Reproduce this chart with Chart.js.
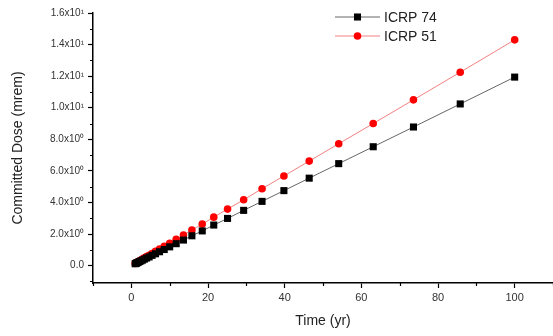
<!DOCTYPE html>
<html>
<head>
<meta charset="utf-8">
<script src="https://cdn.jsdelivr.net/npm/chart.js@4"></script>
<style>
  body { margin: 0; background: #fff; }
  #wrap { width: 553px; height: 336px; }
</style>
</head>
<body>
<div id="wrap"><canvas id="doseChart"></canvas></div>
<script>
// time points (yr)
let years = [1, 1.17, 1.36, 1.58, 1.85, 2.15, 2.51, 2.93, 3.41, 3.98, 4.64, 5.41, 6.31, 7.36, 8.58,
    10, 11.7, 13.6, 15.8, 18.5, 21.5, 25.1, 29.3, 34.1, 39.8, 46.4, 54.1, 63.1, 73.6, 85.8, 100]

// committed dose (mrem)
let icrp74 = [0.12, 0.14, 0.16, 0.19, 0.22, 0.26, 0.30, 0.35, 0.41, 0.48, 0.55, 0.65, 0.75, 0.88, 1.02,
    1.19, 1.39, 1.62, 1.89, 2.2, 2.57, 2.99, 3.5, 4.07, 4.75, 5.54, 6.46, 7.53, 8.78, 10.24, 11.94]
let icrp51 = [0.14, 0.17, 0.19, 0.23, 0.26, 0.31, 0.36, 0.42, 0.49, 0.57, 0.66, 0.77, 0.9, 1.05, 1.22,
    1.42, 1.66, 1.94, 2.26, 2.63, 3.07, 3.58, 4.17, 4.87, 5.68, 6.62, 7.72, 9.0, 10.5, 12.25, 14.3]

let xTicks = [0, 20, 40, 60, 80, 100]
let xMinor = [-10, 10, 30, 50, 70, 90, 110]
let xLabels = { 0: '0', 20: '20', 40: '40', 60: '60', 80: '80', 100: '100' }
let yTicks = [0, 2, 4, 6, 8, 10, 12, 14, 16]
let yMinor = [-1, 1, 3, 5, 7, 9, 11, 13, 15]
let yLabels = {
    0: '0.0', 2: '2.0x10⁰', 4: '4.0x10⁰', 6: '6.0x10⁰', 8: '8.0x10⁰',
    10: '1.0x10¹', 12: '1.2x10¹', 14: '1.4x10¹', 16: '1.6x10¹'
}

let chartEl = document.getElementById('doseChart')

// shorter minor ticks, origin style
let minorTicks = {
    id: 'minorTicks',
    afterDraw(chart) {
        let ctx = chart.ctx
        let xs = chart.scales.x
        let ys = chart.scales.y
        ctx.save()
        ctx.strokeStyle = '#000'
        ctx.lineWidth = 1.2
        ctx.beginPath()
        xMinor.forEach(function(v) {
            let px = Math.round(xs.getPixelForValue(v)) + 0.5
            ctx.moveTo(px, xs.top)
            ctx.lineTo(px, xs.top + 3)
        })
        yMinor.forEach(function(v) {
            let py = Math.round(ys.getPixelForValue(v)) + 0.5
            ctx.moveTo(ys.right, py)
            ctx.lineTo(ys.right - 3, py)
        })
        ctx.stroke()
        ctx.restore()
    }
}

// legend drawn like the origin one: short line with marker through it
let originLegend = {
    id: 'originLegend',
    afterDraw(chart) {
        let ctx = chart.ctx
        let items = [
            { text: 'ICRP 74', line: '#666', fill: '#000', style: 'rect', r: 5 },
            { text: 'ICRP 51', line: '#f08080', fill: '#f00', style: 'circle', r: 3.8 }
        ]
        ctx.save()
        items.forEach(function(item, i) {
            let y = 17 + i * 19
            ctx.strokeStyle = item.line
            ctx.lineWidth = 1
            ctx.beginPath()
            ctx.moveTo(335, y)
            ctx.lineTo(380, y)
            ctx.stroke()
            ctx.fillStyle = item.fill
            ctx.strokeStyle = item.fill
            Chart.helpers.drawPoint(ctx, { pointStyle: item.style, radius: item.r, borderWidth: 0 }, 357.5, y)
            ctx.fillStyle = '#222'
            ctx.font = '14px "Liberation Sans", Arial, sans-serif'
            ctx.textBaseline = 'middle'
            ctx.fillText(item.text, 384, y + 1)
        })
        ctx.restore()
    }
}

let doseChart = new Chart(chartEl, {
    type: 'line',
    data: {
        datasets: [{
                label: 'ICRP 74',
                data: years.map(function(t, i) { return { x: t, y: icrp74[i] } }),
                borderColor: '#666',
                borderWidth: 1,
                pointStyle: 'rect',
                pointRadius: 5,
                pointBorderWidth: 0,
                pointBackgroundColor: '#000',
                pointBorderColor: '#000'
            },
            {
                label: 'ICRP 51',
                data: years.map(function(t, i) { return { x: t, y: icrp51[i] } }),
                borderColor: '#f08080',
                borderWidth: 1,
                pointStyle: 'circle',
                pointRadius: 3.8,
                pointBorderWidth: 0,
                pointBackgroundColor: '#f00',
                pointBorderColor: '#f00'
            }
        ]
    },
    options: {
        responsive: true,
        maintainAspectRatio: false,
        animation: false,
        layout: { autoPadding: false, padding: { top: 13, right: 0, left: 0, bottom: 0 } },
        plugins: {
            legend: { display: false },
            tooltip: { enabled: false }
        },
        scales: {
            x: {
                type: 'linear',
                min: -10,
                max: 110,
                afterBuildTicks: function(scale) {
                    scale.ticks = xTicks.map(function(v) { return { value: v } })
                },
                afterFit: function(scale) { scale.height = 53 },
                border: { color: '#000', width: 1.5 },
                grid: { drawOnChartArea: false, tickLength: 5, tickColor: '#000', tickWidth: 1.2 },
                ticks: {
                    maxRotation: 0,
                    autoSkip: false,
                    padding: 3,
                    color: '#333',
                    font: { family: '"Liberation Sans", Arial, sans-serif', size: 11 },
                    callback: function(v) { return xLabels[v] || '' }
                },
                title: {
                    display: true,
                    text: 'Time (yr)',
                    color: '#222',
                    padding: { top: 0, bottom: 6 },
                    font: { family: '"Liberation Sans", Arial, sans-serif', size: 14 }
                }
            },
            y: {
                type: 'linear',
                min: -1.1,
                max: 16,
                afterBuildTicks: function(scale) {
                    scale.ticks = yTicks.map(function(v) { return { value: v } })
                },
                afterFit: function(scale) { scale.width = 93 },
                border: { color: '#000', width: 1.5 },
                grid: { drawOnChartArea: false, tickLength: 5, tickColor: '#000', tickWidth: 1.2 },
                ticks: {
                    autoSkip: false,
                    padding: 4,
                    color: '#333',
                    font: { family: '"Liberation Sans", Arial, sans-serif', size: 10 },
                    callback: function(v) { return yLabels[v] || '' }
                },
                title: {
                    display: true,
                    text: 'Committed Dose (mrem)',
                    color: '#222',
                    padding: { top: 10, bottom: 0 },
                    font: { family: '"Liberation Sans", Arial, sans-serif', size: 14 }
                }
            }
        }
    },
    plugins: [minorTicks, originLegend]
})
</script>
</body>
</html>
